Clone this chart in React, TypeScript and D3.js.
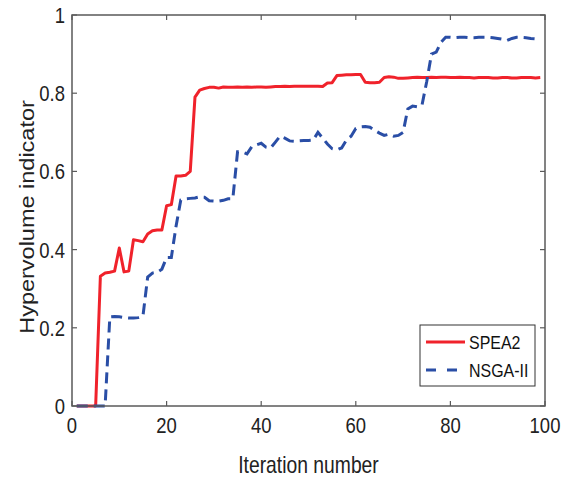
import React from "react";
import * as d3 from "d3";

const iterations: number[] = Array.from({ length: 99 }, (_, i) => i + 1);

const spea2: number[] = [
  0, 0, 0, 0, 0, 0.332, 0.34, 0.342, 0.345, 0.404,
  0.343, 0.345, 0.425, 0.423, 0.42, 0.44, 0.448, 0.45, 0.45, 0.512,
  0.515, 0.588, 0.588, 0.59, 0.6, 0.79, 0.808, 0.812, 0.815, 0.815,
  0.813, 0.816, 0.815, 0.815, 0.816, 0.815, 0.816, 0.815, 0.816, 0.816,
  0.815, 0.816, 0.817, 0.817, 0.818, 0.817, 0.818, 0.818, 0.818, 0.818,
  0.818, 0.818, 0.817, 0.826, 0.827, 0.845, 0.846, 0.847, 0.847, 0.848,
  0.848, 0.828, 0.827, 0.827, 0.828, 0.84, 0.842, 0.841, 0.838, 0.838,
  0.839, 0.84, 0.841, 0.84, 0.84, 0.841, 0.84, 0.841, 0.841, 0.84,
  0.84, 0.841, 0.84, 0.84, 0.839, 0.84, 0.84, 0.84, 0.839, 0.839,
  0.84, 0.84, 0.839, 0.839, 0.84, 0.84, 0.84, 0.839, 0.84,
];

const nsga2: number[] = [
  0, 0, 0, 0, 0, 0, 0, 0.228, 0.229, 0.228,
  0.226, 0.225, 0.225, 0.226, 0.23, 0.33, 0.34, 0.342, 0.35, 0.38,
  0.38, 0.46, 0.527, 0.53, 0.531, 0.532, 0.535, 0.534, 0.525, 0.524,
  0.524, 0.526, 0.53, 0.53, 0.65, 0.65, 0.645, 0.663, 0.668, 0.672,
  0.662, 0.66, 0.675, 0.69, 0.685, 0.678, 0.677, 0.678, 0.679, 0.679,
  0.68, 0.7, 0.685, 0.67, 0.658, 0.655, 0.66, 0.68, 0.69, 0.71,
  0.714, 0.715, 0.713, 0.705, 0.698, 0.692, 0.695, 0.69, 0.692, 0.7,
  0.76, 0.767, 0.765, 0.77, 0.83, 0.9, 0.905, 0.93, 0.943, 0.943,
  0.942, 0.943, 0.943, 0.942, 0.942, 0.943, 0.943, 0.943, 0.942, 0.94,
  0.938, 0.935, 0.94, 0.943, 0.943, 0.942, 0.94, 0.939, 0.937,
];

const xTicks: number[] = [0, 20, 40, 60, 80, 100];
const yTicks: number[] = [0, 0.2, 0.4, 0.6, 0.8, 1];
const yTickLabels: string[] = ["0", "0.2", "0.4", "0.6", "0.8", "1"];
const seriesNames: string[] = ["SPEA2", "NSGA-II"];

const W = 567;
const H = 477;
const left = 72;
const right = 545;
const top = 15;
const bottom = 406;
const RED = "#f0222b";
const BLUE = "#2a4ea6";
const AXIS = "#5a5a5a";
const FONT = "'Liberation Sans', Arial, sans-serif";
const SX = 0.84;

export default function App() {
  const x = d3.scaleLinear().domain([0, 100]).range([left, right]);
  const y = d3.scaleLinear().domain([0, 1]).range([bottom, top]);
  const line = d3
    .line<number>()
    .x((_, i) => x(iterations[i]))
    .y((d) => y(d));

  const tickLen = 5;
  return (
    <svg
      width={W}
      height={H}
      style={{ position: "absolute", left: 0, top: 0, background: "#fff" }}
    >
      <rect x={0} y={0} width={W} height={H} fill="#fff" />
      <path d={line(spea2) || ""} fill="none" stroke={RED} strokeWidth={3} strokeLinejoin="round" />
      <path
        d={line(nsga2) || ""}
        fill="none"
        stroke={BLUE}
        strokeWidth={3}
        strokeDasharray="11 6"
      />
      {/* axes box */}
      <rect
        x={left}
        y={top}
        width={right - left}
        height={bottom - top}
        fill="none"
        stroke={AXIS}
        strokeWidth={1.5}
      />
      {xTicks.map((t) => (
        <g key={"xt" + t}>
          <line x1={x(t)} x2={x(t)} y1={bottom} y2={bottom - tickLen} stroke={AXIS} strokeWidth={1.2} />
          <line x1={x(t)} x2={x(t)} y1={top} y2={top + tickLen} stroke={AXIS} strokeWidth={1.2} />
          <text
            transform={`translate(${x(t)},433) scale(${SX},1)`}
            textAnchor="middle"
            fontFamily={FONT}
            fontSize={22}
            fill="#222"
          >
            {t}
          </text>
        </g>
      ))}
      {yTicks.map((t, i) => (
        <g key={"yt" + t}>
          <line x1={left} x2={left + tickLen} y1={y(t)} y2={y(t)} stroke={AXIS} strokeWidth={1.2} />
          <line x1={right} x2={right - tickLen} y1={y(t)} y2={y(t)} stroke={AXIS} strokeWidth={1.2} />
          <text
            transform={`translate(65,${y(t) + 8}) scale(${SX},1)`}
            textAnchor="end"
            fontFamily={FONT}
            fontSize={22}
            fill="#222"
          >
            {yTickLabels[i]}
          </text>
        </g>
      ))}
      <text
        transform={`translate(${(left + right) / 2},473) scale(${SX},1)`}
        textAnchor="middle"
        fontFamily={FONT}
        fontSize={23}
        fill="#222"
      >
        Iteration number
      </text>
      <text
        transform={`translate(34,217) rotate(-90) scale(1,${SX})`}
        textAnchor="middle"
        fontFamily={FONT}
        fontSize={23.5}
        fill="#222"
      >
        Hypervolume indicator
      </text>
      {/* legend */}
      <rect x={420} y={325} width={115} height={61} fill="#fff" stroke="#333" strokeWidth={1} />
      <line x1={426} x2={465} y1={342} y2={342} stroke={RED} strokeWidth={3} />
      <line x1={426} x2={465} y1={370} y2={370} stroke={BLUE} strokeWidth={3} strokeDasharray="10 11" />
      <text
        transform={`translate(469,349) scale(${SX},1)`}
        fontFamily={FONT}
        fontSize={19}
        fill="#111"
      >
        {seriesNames[0]}
      </text>
      <text
        transform={`translate(469,377) scale(${SX},1)`}
        fontFamily={FONT}
        fontSize={19}
        fill="#111"
      >
        {seriesNames[1]}
      </text>
    </svg>
  );
}
